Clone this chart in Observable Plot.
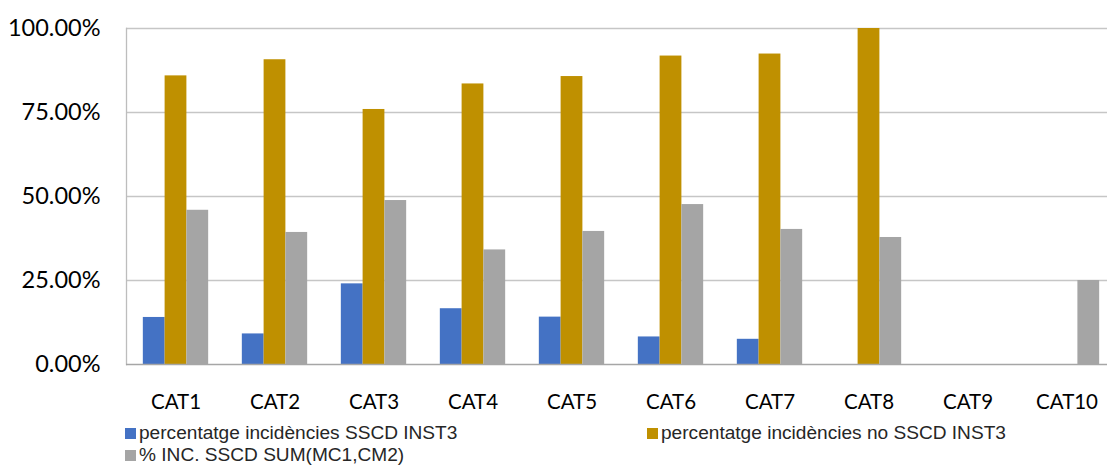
<!DOCTYPE html>
<html>
<head>
<meta charset="utf-8">
<script src="https://cdn.jsdelivr.net/npm/d3@7"></script>
<script src="https://cdn.jsdelivr.net/npm/@observablehq/plot@0.6"></script>
<style>
  html, body { margin: 0; padding: 0; background: #fff; width: 1107px; height: 466px; overflow: hidden; }
  #chart { position: relative; }
  .legend { position: absolute; font-family: "Liberation Sans", Arial, sans-serif; font-size: 19.1px; color: #262626; white-space: nowrap; display: flex; align-items: center; line-height: 22px; }
  .legend .sw { width: 11px; height: 11px; margin-right: 3px; display: inline-block; }
</style>
</head>
<body>
<div id="chart"></div>
<script>
const categories = ["CAT1","CAT2","CAT3","CAT4","CAT5","CAT6","CAT7","CAT8","CAT9","CAT10"];
const seriesNames = [
  "percentatge incidències SSCD INST3",
  "percentatge incidències no SSCD INST3",
  "% INC. SSCD SUM(MC1,CM2)"
];
const sscdInst3   = [0.140, 0.091, 0.240, 0.166, 0.141, 0.082, 0.075, 0, 0, 0];
const noSscdInst3 = [0.859, 0.907, 0.759, 0.835, 0.857, 0.918, 0.924, 1.000, 0, 0];
const sumMc1Cm2   = [0.459, 0.393, 0.488, 0.341, 0.396, 0.476, 0.402, 0.378, 0, 0.250];
const colors = ["#4472C4", "#BF9000", "#A5A5A5"];
const yTicks = [0, 0.25, 0.5, 0.75, 1];

const seriesValues = [sscdInst3, noSscdInst3, sumMc1Cm2];
const rows = [];
seriesValues.forEach((vals, s) => vals.forEach((v, i) => rows.push({cat: categories[i], series: seriesNames[s], s, value: v})));

const xRange = [126, 1116];
const bw = (xRange[1] - xRange[0]) / categories.length;
const outer = bw * 0.17, barW = bw * 0.22;

const barMarks = seriesNames.map((name, s) =>
  Plot.barY(rows.filter(d => d.s === s && d.value > 0), {
    x: "cat", y: "value", fill: colors[s],
    insetLeft: outer + s * barW,
    insetRight: bw - outer - (s + 1) * barW
  })
);

const chart = Plot.plot({
  width: 1107,
  height: 412,
  marginLeft: 126,
  marginRight: 0,
  marginTop: 28,
  marginBottom: 48,
  style: { fontFamily: "Lato, sans-serif", background: "#fff", overflow: "hidden" },
  x: { domain: categories, range: xRange, padding: 0, label: null },
  y: { domain: [0, 1], ticks: yTicks, label: null },
  marks: [
    Plot.ruleY(yTicks.slice(1), { y: d => d, stroke: "#c6c6c6", strokeWidth: 1.3 }),
    Plot.frame({ anchor: "left", stroke: "#bdbdbd", strokeWidth: 1.3 }),
    ...barMarks,
    Plot.ruleY([0], { stroke: "#a6a6a6", strokeWidth: 1.5 }),
    Plot.axisY({ ticks: yTicks, tickFormat: d3.format(".2%"), tickSize: 0, tickPadding: 26, fontSize: 23.5, fill: "#000", label: null }),
    Plot.axisX({ tickSize: 0, tickPadding: 30, fontSize: 20.5, fill: "#000", label: null })
  ]
});
document.getElementById("chart").appendChild(chart);

const legendPos = [
  { left: 125, top: 422 },
  { left: 647, top: 422 },
  { left: 125, top: 444 }
];
seriesNames.forEach((name, s) => {
  const el = document.createElement("div");
  el.className = "legend";
  el.style.left = legendPos[s].left + "px";
  el.style.top = legendPos[s].top + "px";
  const sw = document.createElement("span");
  sw.className = "sw";
  sw.style.background = colors[s];
  const tx = document.createElement("span");
  tx.textContent = name;
  el.appendChild(sw); el.appendChild(tx);
  document.body.appendChild(el);
});
</script>
</body>
</html>
